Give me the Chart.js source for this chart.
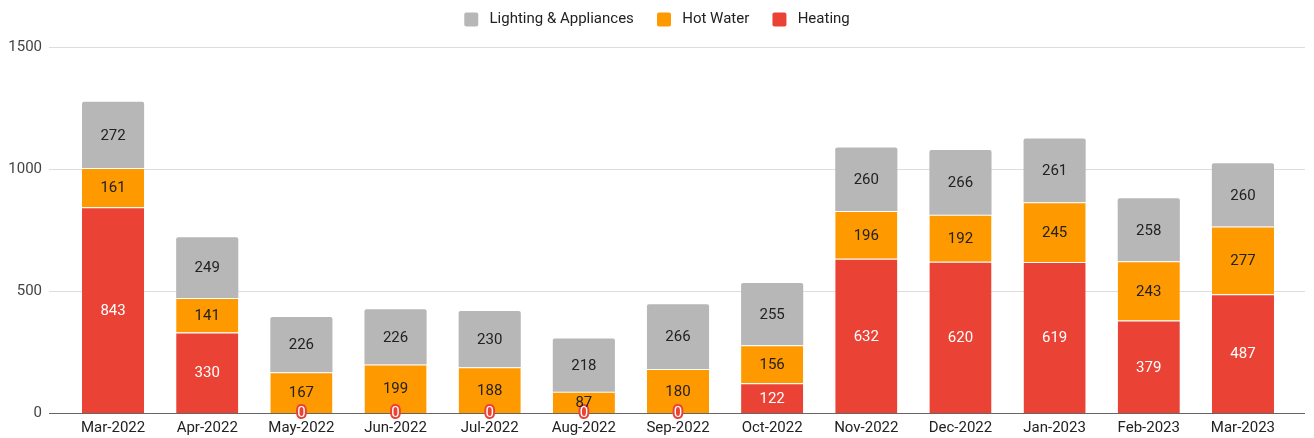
<!DOCTYPE html>
<html><head><meta charset="utf-8">
<script src="https://cdn.jsdelivr.net/npm/chart.js@4/dist/chart.umd.min.js"></script>
<style>html,body{margin:0;padding:0;background:#fff;overflow:hidden}#wrap{width:1314px;height:438px}canvas{display:block}</style>
</head><body><div id="wrap"><canvas id="c" width="1314" height="438"></canvas></div>
<script>
const categories = ["Mar-2022","Apr-2022","May-2022","Jun-2022","Jul-2022","Aug-2022","Sep-2022","Oct-2022","Nov-2022","Dec-2022","Jan-2023","Feb-2023","Mar-2023"];
const heating = [843,330,0,0,0,0,0,122,632,620,619,379,487];
const hotWater = [161,141,167,199,188,87,180,156,196,192,245,243,277];
const lighting = [272,249,226,226,230,218,266,255,260,266,261,258,260];
const yTicks = [0,500,1000,1500];

const FONT = 'Roboto, "Liberation Sans", Arial, sans-serif';
const colors = {heating:'#ea4335', hot:'#ff9900', light:'#b7b7b7'};

const gridPlugin = {
  id:'gridExt',
  beforeDatasetsDraw(chart){
    const ctx = chart.ctx, y = chart.scales.y;
    ctx.save();
    yTicks.forEach(v=>{
      const py = Math.round(y.getPixelForValue(v)) + 0.5;
      ctx.beginPath();
      ctx.strokeStyle = v===0 ? '#666666' : '#dddddd';
      ctx.lineWidth = 1;
      ctx.moveTo(49, py); ctx.lineTo(1305, py); ctx.stroke();
    });
    ctx.restore();
  }
};
const labelPlugin = {
  id:'barLabels',
  afterDatasetsDraw(chart){
    const ctx = chart.ctx;
    ctx.save();
    ctx.font = '15px ' + FONT;
    ctx.textAlign = 'center';
    ctx.textBaseline = 'middle';
    chart.data.datasets.forEach((ds, di)=>{
      const meta = chart.getDatasetMeta(di);
      meta.data.forEach((bar, i)=>{
        const v = ds.data[i];
        if (v === 0){
          const py = bar.base;
          ctx.lineJoin = 'round';
          ctx.lineWidth = 4;
          ctx.strokeStyle = colors.heating;
          ctx.strokeText('0', bar.x, py);
          ctx.fillStyle = '#ffffff';
          ctx.fillText('0', bar.x, py);
        } else {
          ctx.fillStyle = di===0 ? '#ffffff' : '#222222';
          ctx.fillText(String(v), bar.x, (bar.y + bar.base)/2 + 1);
        }
      });
    });
    ctx.restore();
  }
};
const legendSpace = {
  id:'legendSpace',
  beforeInit(chart){
    const lg = chart.legend;
    if (lg && !lg._patched){
      const orig = lg.fit.bind(lg);
      lg.fit = function(){ orig(); this.height += 10; };
      lg._patched = true;
    }
  }
};

new Chart(document.getElementById('c'), {
  type:'bar',
  data:{
    labels: categories,
    datasets:[
      {label:'Heating', data:heating, backgroundColor:colors.heating, borderColor:'#ffffff', borderWidth:{top:1,left:0,right:0,bottom:0}, borderSkipped:false},
      {label:'Hot Water', data:hotWater, backgroundColor:colors.hot, borderColor:'#ffffff', borderWidth:{top:1,left:0,right:0,bottom:0}, borderSkipped:false},
      {label:'Lighting & Appliances', data:lighting, backgroundColor:colors.light, borderWidth:0, borderRadius:{topLeft:2,topRight:2,bottomLeft:0,bottomRight:0}, borderSkipped:false}
    ]
  },
  options:{
    responsive:false,
    animation:false,
    layout:{padding:{left:0,right:0,top:0,bottom:0}},
    datasets:{bar:{barPercentage:0.66, categoryPercentage:1.0}},
    plugins:{
      legend:{
        position:'top',
        reverse:true,
        labels:{
          boxWidth:14, boxHeight:14, padding:12, color:'#222222',
          font:{family:FONT, size:15},
          generateLabels(chart){
            return chart.data.datasets.map((ds,i)=>({
              text:' ' + ds.label + (i === 0 ? '' : '   '), fillStyle:ds.backgroundColor, strokeStyle:ds.backgroundColor,
              lineWidth:0, borderRadius:2, datasetIndex:i, hidden:false, fontColor:'#222222'
            }));
          },
          useBorderRadius:true, borderRadius:2
        }
      },
      tooltip:{enabled:false}
    },
    scales:{
      x:{
        stacked:true,
        grid:{display:false, drawTicks:false},
        border:{display:false},
        ticks:{color:'#222222', font:{family:FONT, size:15}, padding:6, maxRotation:0, autoSkip:false},
        afterFit(s){ s.height = 25; }
      },
      y:{
        stacked:true, min:0, max:1500,
        grid:{display:false, drawTicks:false},
        border:{display:false},
        ticks:{stepSize:500, color:'#444444', font:{family:FONT, size:15}, padding:24, callback:(v)=>String(v)},
        afterFit(s){ s.width = 66; s.paddingTop = 9; s.paddingBottom = 9; }
      },
      y2:{
        type:'linear', position:'right', display:true, min:0, max:1500,
        grid:{display:false, drawTicks:false},
        border:{display:false},
        ticks:{display:false},
        afterFit(s){ s.width = 24; s.paddingTop = 0; s.paddingBottom = 0; }
      }
    }
  },
  plugins:[legendSpace, gridPlugin, labelPlugin]
});
</script></body></html>
